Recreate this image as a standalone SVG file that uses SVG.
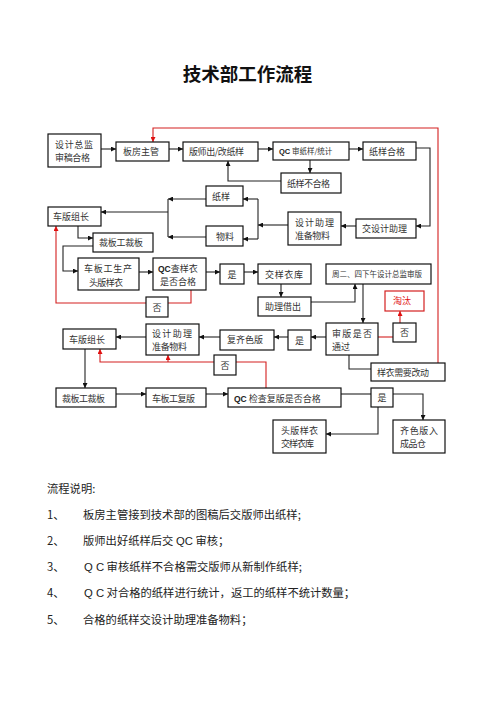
<svg xmlns="http://www.w3.org/2000/svg" width="496" height="702" viewBox="0 0 496 702">
<defs>
<marker id="ah" viewBox="0 0 6 6" refX="6" refY="3" markerWidth="5" markerHeight="5" markerUnits="userSpaceOnUse" orient="auto"><path d="M0,0 L6,3 L0,6 z" fill="#111"/></marker>
<marker id="ahr" viewBox="0 0 6 6" refX="6" refY="3" markerWidth="5" markerHeight="5" markerUnits="userSpaceOnUse" orient="auto"><path d="M0,0 L6,3 L0,6 z" fill="#e01010"/></marker>
<style>
.b{fill:#fff;stroke:#111;stroke-width:1.2}
.rb{fill:#fff;stroke:#d42020;stroke-width:1.2}
.t{font-family:"Noto Sans CJK SC","Liberation Sans",sans-serif;font-size:9px;fill:#333}
.ts{font-family:"Noto Sans CJK SC","Liberation Sans",sans-serif;font-size:7.5px;fill:#333}
.q{font-family:"Liberation Sans",sans-serif;font-weight:bold;fill:#222}
.c{text-anchor:middle}
.l{fill:none;stroke:#222;stroke-width:1.1}
.l2{fill:none;stroke:#222;stroke-width:1.1;marker-end:url(#ah)}
.r{fill:none;stroke:#d42020;stroke-width:1.1}
.r2{fill:none;stroke:#d42020;stroke-width:1.1;marker-end:url(#ahr)}
.d{font-family:"Noto Sans CJK SC","Liberation Serif",serif;font-size:11.3px;fill:#222}
</style>
</defs>
<rect width="496" height="702" fill="#fff"/>
<text x="247.5" y="80.5" text-anchor="middle" style="font-family:'Noto Sans CJK SC',sans-serif;font-size:18.5px;font-weight:bold;fill:#111">技术部工作流程</text>

<g id="connectors">
<path class="l2" d="M101,149 H116"/>
<path class="l2" d="M169,149 H183"/>
<path class="l2" d="M258,149 H273"/>
<path class="l2" d="M349,149 H363"/>
<path class="l2" d="M310,160 V173"/>
<path class="l2" d="M281,181 H228 V161"/>
<path class="l2" d="M416,148 H430 V226 H416"/>
<path class="l2" d="M356,226 H341"/>
<path class="l2" d="M288,225 H258"/>
<path class="l" d="M258,199 V239"/>
<path class="l2" d="M258,199 H243"/>
<path class="l2" d="M258,239 H243"/>
<path class="l2" d="M206,199 H168"/>
<path class="l2" d="M206,237 H168"/>
<path class="l" d="M168,199 V237"/>
<path class="l2" d="M168,212 H101"/>
<path class="l2" d="M78,226 V238 H93"/>
<path class="l2" d="M93,246 H63 V271 H78"/>
<path class="l2" d="M139,272 H153"/>
<path class="l2" d="M206,272 H220"/>
<path class="l2" d="M244,272 H258"/>
<path class="l2" d="M281,284 V297"/>
<path class="l2" d="M311,302 H355 V284"/>
<path class="l2" d="M363,284 V323"/>
<path class="l2" d="M326,337 H311"/>
<path class="l2" d="M288,337 H274"/>
<path class="l2" d="M220,337 H199"/>
<path class="l2" d="M146,337 H116"/>
<path class="l2" d="M85,349 V388"/>
<path class="l2" d="M116,394 H146"/>
<path class="l2" d="M206,394 H228"/>
<path class="l" d="M341,394 H371"/>
<path class="l2" d="M393,394 H423 V420"/>
<path class="l2" d="M378,407 V434 H326"/>
<path class="l" d="M349,355 V369 H371"/>
<path class="r2" d="M438,363 V128 H153 V142"/>
<path class="r" d="M191,290 V303 H168"/>
<path class="r2" d="M146,303 H56 V226"/>
<path class="r" d="M378,337 H393"/>
<path class="r2" d="M400,323 V311"/>
<path class="r" d="M266,388 V362 H236"/>
<path class="r2" d="M214,362 H100 V349"/>
<path class="r2" d="M168,362 V355"/>
</g>

<g id="n_sjzj"><rect class="b" x="48" y="134" width="53" height="33"/><text class="t" x="55" y="147.5" textLength="38" lengthAdjust="spacing">设计总监</text><text class="t" x="55" y="160.5" textLength="35" lengthAdjust="spacing">审稿合格</text></g>
<g id="n_bfzg"><rect class="b" x="116" y="142" width="53" height="19"/><text class="t" x="123" y="155">板房主管</text></g>
<g id="n_bscz"><rect class="b" x="183" y="142" width="75" height="19"/><text class="t" x="189" y="155" textLength="55" lengthAdjust="spacing">版师出/改纸样</text></g>
<g id="n_qcsz"><rect class="b" x="273" y="142" width="76" height="18"/><text class="ts" x="279" y="154"><tspan class="q" font-size="7.5">QC</tspan> 审纸样/统计</text></g>
<g id="n_zyhg"><rect class="b" x="363" y="142" width="53" height="18"/><text class="t" x="369" y="154.5">纸样合格</text></g>
<g id="n_zybhg"><rect class="b" x="281" y="173" width="60" height="20"/><text class="t" x="287" y="186.5" textLength="43" lengthAdjust="spacing">纸样不合格</text></g>
<g id="n_zy"><rect class="b" x="206" y="186" width="37" height="20"/><text class="t" x="212" y="199.5">纸样</text></g>
<g id="n_wl"><rect class="b" x="206" y="226" width="37" height="20"/><text class="t" x="216" y="239.5">物料</text></g>
<g id="n_sjzl1"><rect class="b" x="288" y="212" width="53" height="33"/><text class="t" x="295" y="225.5" textLength="39" lengthAdjust="spacing">设计助理</text><text class="t" x="295" y="238.5" textLength="35" lengthAdjust="spacing">准备物料</text></g>
<g id="n_jsjzl"><rect class="b" x="356" y="219" width="60" height="19"/><text class="t" x="362" y="231.5" textLength="45" lengthAdjust="spacing">交设计助理</text></g>
<g id="n_cbzz1"><rect class="b" x="48" y="207" width="53" height="19"/><text class="t" x="53" y="219.5" textLength="36" lengthAdjust="spacing">车版组长</text></g>
<g id="n_cbgcb1"><rect class="b" x="93" y="233" width="60" height="19"/><text class="t" x="99" y="245.5" textLength="44" lengthAdjust="spacing">裁板工裁板</text></g>
<g id="n_cbgsc"><rect class="b" x="78" y="258" width="61" height="32"/><text class="t" x="84" y="271.5" textLength="48" lengthAdjust="spacing">车板工生产</text><text class="t" x="89" y="285.5" textLength="34" lengthAdjust="spacing">头版样衣</text></g>
<g id="n_qccyy"><rect class="b" x="153" y="258" width="53" height="32"/><text class="t" x="158" y="271.5"><tspan class="q" font-size="8.5">QC</tspan>查样衣</text><text class="t" x="160" y="284.5" textLength="36" lengthAdjust="spacing">是否合格</text></g>
<g id="n_shi1"><rect class="b" x="220" y="264" width="24" height="20"/><text class="t c" x="232" y="277.5">是</text></g>
<g id="n_fou1"><rect class="b" x="146" y="297" width="22" height="20"/><text class="t c" x="157" y="310.5">否</text></g>
<g id="n_jyyk1"><rect class="b" x="258" y="264" width="53" height="20"/><text class="t" x="265" y="277.5" textLength="38" lengthAdjust="spacing">交样衣库</text></g>
<g id="n_zljc"><rect class="b" x="258" y="297" width="53" height="19"/><text class="t" x="265" y="310">助理借出</text></g>
<g id="n_zesh"><rect class="b" x="326" y="264" width="105" height="20"/><text class="ts" x="332" y="277" textLength="90" lengthAdjust="spacing">周二、四下午设计总监审版</text></g>
<g id="n_tt"><rect class="rb" x="385" y="291" width="39" height="20"/><text class="t" x="393" y="303.5" style="fill:#e01010">淘汰</text></g>
<g id="n_sbsf"><rect class="b" x="326" y="323" width="52" height="32"/><text class="t" x="332" y="336.5" textLength="40" lengthAdjust="spacing">审版是否</text><text class="t" x="332" y="349.5">通过</text></g>
<g id="n_fou2"><rect class="b" x="393" y="323" width="23" height="19"/><text class="t c" x="404.5" y="336">否</text></g>
<g id="n_shi2"><rect class="b" x="288" y="330" width="23" height="20"/><text class="t c" x="299.5" y="343.5">是</text></g>
<g id="n_fqsb"><rect class="b" x="220" y="330" width="54" height="20"/><text class="t" x="227" y="343" textLength="36" lengthAdjust="spacing">复齐色版</text></g>
<g id="n_sjzl2"><rect class="b" x="146" y="324" width="53" height="31"/><text class="t" x="152" y="336.5" textLength="40" lengthAdjust="spacing">设计助理</text><text class="t" x="152" y="349.5" textLength="35" lengthAdjust="spacing">准备物料</text></g>
<g id="n_cbzz2"><rect class="b" x="63" y="329" width="53" height="20"/><text class="t" x="69" y="342.5" textLength="36" lengthAdjust="spacing">车版组长</text></g>
<g id="n_fou3"><rect class="b" x="214" y="355" width="22" height="20"/><text class="t c" x="225" y="368.5">否</text></g>
<g id="n_yyxy"><rect class="b" x="371" y="363" width="74" height="18"/><text class="t" x="377" y="375.5" textLength="52" lengthAdjust="spacing">样衣需要改动</text></g>
<g id="n_cbgcb2"><rect class="b" x="56" y="388" width="60" height="19"/><text class="t" x="62" y="401.5" textLength="43" lengthAdjust="spacing">裁板工裁板</text></g>
<g id="n_cbgfb"><rect class="b" x="146" y="388" width="60" height="19"/><text class="t" x="152" y="401.5" textLength="43" lengthAdjust="spacing">车板工复版</text></g>
<g id="n_qcjc"><rect class="b" x="228" y="388" width="113" height="19"/><text class="t" x="234" y="401.5"><tspan class="q" font-size="8.5">QC</tspan> 检查复版是否合格</text></g>
<g id="n_shi3"><rect class="b" x="371" y="388" width="22" height="19"/><text class="t c" x="382" y="401">是</text></g>
<g id="n_tbyy"><rect class="b" x="273" y="420" width="53" height="33"/><text class="t" x="281" y="433.5" textLength="37" lengthAdjust="spacing">头版样衣</text><text class="t" x="281" y="446.5" textLength="33" lengthAdjust="spacing">交样衣库</text></g>
<g id="n_qsbr"><rect class="b" x="393" y="420" width="52" height="33"/><text class="t" x="400" y="433.5" textLength="38" lengthAdjust="spacing">齐色版入</text><text class="t" x="400" y="446.5" textLength="26" lengthAdjust="spacing">成品仓</text></g>

<g id="notes">
<text class="d" x="47" y="493">流程说明:</text>
<text class="d" x="47" y="519">1、</text><text class="d" x="83" y="519">板房主管接到技术部的图稿后交版师出纸样;</text>
<text class="d" x="47" y="545">2、</text><text class="d" x="83" y="545">版师出好纸样后交 <tspan font-family="Liberation Sans">QC</tspan> 审核；</text>
<text class="d" x="47" y="571">3、</text><text class="d" x="84" y="571"><tspan font-family="Liberation Sans">Q C</tspan> 审核纸样不合格需交版师从新制作纸样;</text>
<text class="d" x="47" y="597">4、</text><text class="d" x="84" y="597"><tspan font-family="Liberation Sans">Q C</tspan> 对合格的纸样进行统计，返工的纸样不统计数量；</text>
<text class="d" x="47" y="624">5、</text><text class="d" x="83" y="624">合格的纸样交设计助理准备物料；</text>
</g>
</svg>
